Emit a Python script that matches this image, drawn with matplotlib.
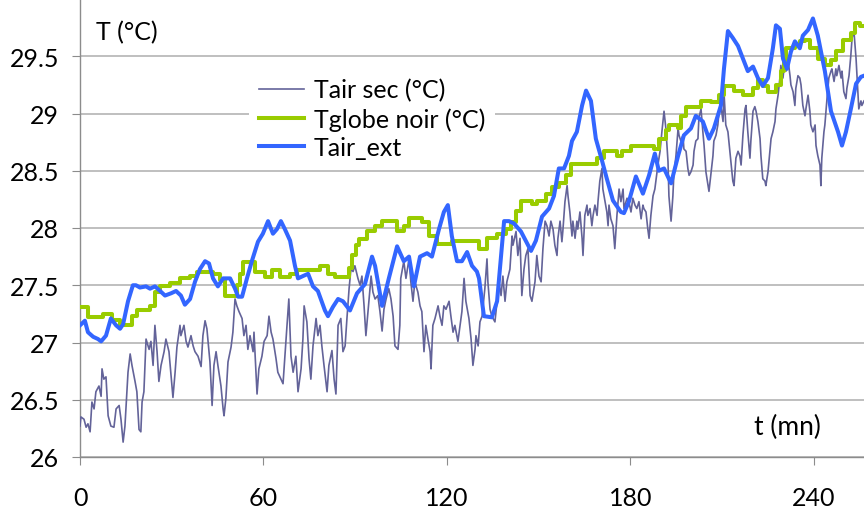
import matplotlib
matplotlib.use('Agg')
import matplotlib.pyplot as plt

# Tair sec (°C) - thin noisy line
t_sec = [0, 0.3, 1.3, 2.0, 2.6, 3.3, 3.9, 4.6, 5.2, 6.2, 6.9, 7.2, 7.8, 8.5, 9.2, 10.1, 11.1, 11.8, 12.8, 13.4,
         14.1, 14.7, 15.7, 16.4, 17.0, 18.0, 18.6, 19.3, 19.9, 20.3, 20.9, 21.6, 22.6, 23.2, 23.9, 24.5, 25.2, 25.8,
         26.5, 27.5, 28.1, 29.1, 29.8, 30.4, 31.1, 31.7, 32.7, 33.0, 34.0, 34.7, 35.3, 36.3, 37.0, 37.6, 38.6, 39.6,
         40.2, 40.9, 41.5, 42.5, 43.2, 43.8, 44.5, 45.1, 46.1, 46.8, 47.1, 47.7, 48.4, 49.4, 50.0, 50.7, 51.3, 52.0,
         53.0, 53.6, 54.3, 54.9, 55.6, 56.6, 56.9, 57.9, 58.5, 59.5, 60.2, 61.2, 61.8, 62.5, 63.1, 64.1, 64.7, 65.7,
         66.4, 67.0, 67.7, 68.3, 69.0, 69.7, 70.6, 71.3, 72.3, 72.9, 73.3, 74.2, 74.9, 75.5, 76.2, 77.2, 77.8, 78.5,
         79.1, 79.8, 80.8, 81.4, 82.4, 83.1, 83.7, 84.4, 85.3, 86.0, 86.7, 87.3, 88.0, 88.6, 89.3, 89.9, 90.9, 91.6,
         92.2, 92.9, 93.5, 94.5, 95.2, 95.8, 96.5, 97.4, 98.1, 98.8, 99.4, 100.1, 101.0, 101.7, 102.4, 103.0, 104.0,
         104.6, 104.9, 105.9, 106.6, 107.6, 108.2, 108.9, 109.5, 110.5, 111.2, 111.8, 112.5, 113.1, 113.8, 114.5,
         114.8, 115.4, 116.1, 117.1, 117.7, 118.4, 119.0, 119.7, 120.7, 121.3, 122.0, 122.6, 123.6, 124.3, 124.9,
         125.6, 126.2, 127.2, 127.9, 128.5, 129.2, 129.5, 130.2, 130.8, 131.5, 132.4, 133.1, 133.4, 134.1, 134.7,
         135.7, 136.4, 137.0, 137.7, 138.3, 139.0, 139.6, 140.6, 141.3, 141.6, 142.6, 143.2, 143.9, 144.5, 145.2,
         145.8, 146.5, 147.2, 147.8, 148.8, 149.4, 150.1, 150.8, 151.4, 152.1, 152.7, 153.4, 154.0, 154.7, 155.3,
         156.0, 156.3, 157.0, 157.6, 157.9, 158.6, 159.3, 159.6, 160.2, 160.9, 161.2, 161.9, 162.5, 162.8, 163.5,
         164.2, 164.5, 165.1, 165.8, 166.1, 166.8, 167.4, 167.8, 168.4, 169.1, 169.4, 170.0, 170.7, 171.0, 171.7,
         172.3, 172.7, 173.0, 173.6, 174.3, 174.9, 175.6, 176.3, 176.9, 177.6, 177.9, 178.9, 179.5, 180.2, 180.8,
         181.5, 182.1, 182.8, 183.5, 184.1, 184.4, 185.1, 185.7, 186.1, 186.7, 187.4, 188.0, 189.0, 189.7, 190.3,
         191.0, 191.6, 192.3, 192.6, 193.3, 193.9, 194.2, 194.9, 195.6, 195.9, 196.5, 197.2, 197.5, 198.2, 198.8,
         199.2, 199.8, 200.5, 200.8, 201.4, 202.1, 202.4, 203.1, 203.7, 204.1, 204.7, 205.4, 205.7, 206.3, 207.0,
         207.3, 208.0, 208.6, 209.0, 209.6, 210.3, 210.6, 211.2, 211.9, 212.2, 212.9, 213.5, 213.9, 214.5, 215.2,
         215.8, 216.2, 216.8, 217.5, 217.8, 218.4, 219.1, 219.4, 220.1, 220.7, 221.1, 221.7, 222.4, 222.7, 223.3,
         224.0, 224.3, 225.0, 225.6, 226.0, 226.6, 227.3, 227.6, 228.3, 228.9, 229.2, 229.9, 230.5, 230.9, 231.5,
         232.2, 232.5, 233.2, 233.8, 234.1, 234.8, 235.4, 235.8, 236.4, 237.1, 237.4, 238.1, 238.7, 239.0, 239.7,
         240.4, 240.7, 241.3, 242.0, 242.3, 242.6, 243.3, 243.6, 244.3, 244.9, 245.6, 245.9, 246.6, 247.2, 247.5,
         248.2, 248.9, 249.2, 249.8, 250.5, 250.8, 251.5, 252.1, 252.5, 253.1, 253.8, 254.1, 254.7, 255.4, 255.7,
         256.4]
T_sec = [26.27, 26.35, 26.33, 26.26, 26.29, 26.22, 26.48, 26.42, 26.57, 26.62, 26.53, 26.77, 26.68, 26.70, 26.36,
         26.27, 26.26, 26.42, 26.45, 26.33, 26.13, 26.27, 26.74, 26.90, 26.80, 26.66, 26.57, 26.24, 26.22, 26.48,
         26.57, 27.03, 26.94, 27.01, 26.80, 27.15, 26.92, 26.66, 26.80, 26.92, 27.03, 26.92, 26.71, 26.52, 26.74,
         26.96, 27.15, 27.06, 27.15, 27.01, 26.96, 27.06, 26.97, 26.92, 26.88, 26.79, 27.06, 27.19, 27.12, 26.83,
         26.45, 26.80, 26.92, 26.80, 26.62, 26.42, 26.36, 26.51, 26.83, 26.96, 27.09, 27.38, 27.32, 27.27, 27.21,
         27.06, 27.15, 26.94, 27.06, 26.92, 27.09, 26.55, 26.77, 26.88, 27.01, 27.06, 27.23, 27.09, 27.03, 26.86,
         26.74, 26.68, 26.64, 26.88, 27.15, 27.38, 26.88, 26.74, 26.88, 26.57, 26.77, 27.03, 27.32, 27.18, 26.86,
         26.68, 26.97, 27.21, 27.06, 27.15, 26.97, 26.80, 26.57, 26.80, 26.93, 26.68, 26.55, 27.15, 27.21, 26.92,
         26.97, 27.21, 27.47, 27.64, 27.62, 27.67, 27.56, 27.50, 27.58, 27.32, 27.06, 27.36, 27.58, 27.44, 27.38,
         27.41, 27.27, 27.10, 27.29, 27.38, 27.47, 27.38, 27.23, 26.97, 26.94, 27.15, 27.56, 27.71, 27.56, 27.73,
         27.53, 27.36, 27.53, 27.44, 27.32, 27.27, 26.92, 27.15, 27.03, 26.92, 26.77, 27.15, 27.21, 27.32, 27.23,
         27.15, 27.32, 27.29, 27.36, 27.23, 27.09, 27.15, 27.01, 27.15, 27.27, 27.56, 27.36, 27.21, 27.03, 26.80,
         26.94, 27.06, 26.97, 27.18, 27.23, 27.47, 27.73, 27.53, 27.29, 27.23, 27.18, 27.36, 27.53, 27.41, 27.58,
         27.36, 27.53, 27.64, 27.93, 27.85, 27.97, 27.76, 27.91, 27.41, 27.64, 27.76, 27.82, 27.41, 27.36, 27.53,
         27.76, 27.58, 27.53, 27.82, 28.06, 28.02, 27.93, 28.06, 27.99, 27.85, 27.76, 27.91, 28.06, 27.88, 27.97,
         28.23, 28.37, 28.28, 28.14, 27.93, 28.06, 27.91, 28.06, 27.99, 28.14, 27.91, 27.76, 28.11, 28.20, 28.11,
         28.17, 28.02, 28.11, 28.20, 28.11, 28.23, 28.41, 28.52, 28.34, 28.23, 28.14, 28.02, 28.20, 28.08, 28.02,
         27.82, 28.11, 28.34, 28.23, 28.34, 28.17, 28.26, 28.23, 28.14, 28.26, 28.20, 28.17, 28.23, 28.08, 28.20,
         28.17, 28.14, 27.99, 27.91, 28.11, 28.28, 28.34, 28.55, 28.67, 28.84, 29.02, 28.87, 28.58, 28.28, 28.06,
         28.28, 28.46, 28.63, 28.87, 28.81, 28.76, 28.81, 28.69, 28.67, 28.52, 28.46, 28.49, 28.55, 28.67, 28.76,
         28.78, 28.96, 29.04, 28.84, 28.72, 28.49, 28.37, 28.32, 28.46, 28.63, 28.76, 28.81, 28.90, 29.02, 29.07,
         28.93, 29.19, 28.90, 28.84, 28.76, 28.58, 28.41, 28.37, 28.61, 28.67, 28.63, 28.55, 28.81, 29.04, 29.07,
         28.84, 28.61, 28.76, 29.02, 29.06, 29.02, 28.93, 28.78, 28.63, 28.43, 28.41, 28.37, 28.49, 28.67, 28.78,
         28.84, 28.93, 29.04, 29.16, 29.31, 29.42, 29.31, 29.46, 29.37, 29.48, 29.33, 29.25, 29.19, 29.07, 29.22,
         29.33, 29.31, 29.25, 29.07, 28.98, 29.04, 29.16, 29.02, 28.90, 28.84, 28.90, 28.72, 28.63, 28.55, 28.37,
         28.61, 28.84, 28.90, 29.13, 29.31, 29.37, 29.39, 29.28, 29.39, 29.33, 29.42, 29.31, 29.37, 29.19, 29.13,
         29.22, 29.33, 29.51, 29.66, 29.72, 29.48, 29.33, 29.04, 29.11, 29.07, 29.11]

# Tglobe noir (°C) - step line
t_globe = [0, 2.6, 7.5, 10.5, 13.0, 17.0, 18.6, 22.9, 24.5, 26.2, 29.4, 32.7, 36.0, 38.3, 43.5, 45.8, 47.4, 51.3,
           52.3, 53.3, 57.2, 60.5, 62.8, 65.4, 68.7, 71.0, 78.5, 81.1, 83.4, 88.0, 89.0, 90.3, 91.2, 93.9, 96.5,
           98.8, 103.7, 106.0, 107.6, 111.8, 114.1, 116.7, 121.6, 130.5, 133.1, 136.4, 139.3, 140.9, 142.6, 144.2,
           147.8, 149.4, 152.4, 154.3, 156.6, 158.9, 160.6, 169.1, 171.4, 175.6, 177.2, 180.2, 187.7, 189.3, 191.6,
           192.6, 195.6, 196.5, 198.2, 203.1, 206.3, 209.0, 210.6, 213.9, 216.8, 220.1, 221.7, 223.3, 225.0, 227.6,
           229.2, 230.2, 230.9, 233.8, 235.4, 237.1, 238.7, 241.3, 243.6, 245.6, 247.2, 249.5, 252.1, 253.4, 255.0,
           256.4]
T_globe = [27.31, 27.22, 27.25, 27.20, 27.15, 27.23, 27.28, 27.32, 27.44, 27.49, 27.52, 27.56, 27.58, 27.62, 27.60,
           27.55, 27.41, 27.50, 27.60, 27.70, 27.62, 27.57, 27.63, 27.57, 27.60, 27.63, 27.67, 27.60, 27.57, 27.65,
           27.76, 27.85, 27.90, 27.97, 28.02, 28.06, 27.97, 28.02, 28.09, 28.05, 27.93, 27.86, 27.89, 27.82, 27.91,
           27.95, 27.99, 28.05, 28.15, 28.24, 28.21, 28.24, 28.30, 28.36, 28.39, 28.46, 28.56, 28.61, 28.67, 28.63,
           28.67, 28.72, 28.69, 28.78, 28.86, 28.90, 28.87, 28.98, 29.06, 29.11, 29.10, 29.16, 29.24, 29.20, 29.16,
           29.22, 29.29, 29.24, 29.19, 29.25, 29.37, 29.47, 29.57, 29.61, 29.63, 29.64, 29.57, 29.48, 29.42, 29.47,
           29.55, 29.64, 29.70, 29.79, 29.76, 29.76]

# Tair_ext - smooth thick line
t_ext = [0, 1.6, 2.6, 4.3, 5.9, 6.9, 8.5, 10.1, 11.8, 13.1, 14.1, 15.7, 17.3, 18.3, 19.6, 21.6, 22.9, 24.5, 26.2,
         27.8, 29.8, 31.4, 33.0, 34.3, 36.0, 37.6, 39.2, 40.9, 42.2, 43.5, 45.1, 46.8, 49.1, 50.7, 51.7, 53.0, 54.6,
         56.2, 58.2, 59.8, 61.5, 63.1, 64.4, 65.7, 67.0, 68.7, 70.3, 71.3, 72.9, 74.6, 76.2, 77.8, 80.1, 81.1, 82.7,
         84.4, 86.0, 88.3, 90.6, 93.2, 95.5, 96.5, 98.8, 101.0, 103.7, 105.9, 107.6, 109.2, 111.2, 113.5, 115.1,
         117.4, 119.0, 120.3, 121.6, 123.3, 124.9, 126.6, 128.2, 129.8, 130.5, 132.1, 134.7, 136.4, 138.7, 140.3,
         141.9, 144.2, 147.5, 149.1, 151.1, 153.4, 155.0, 156.6, 158.3, 159.9, 160.9, 162.5, 164.2, 165.5, 167.1,
         168.7, 170.7, 172.3, 174.3, 176.9, 177.9, 179.5, 181.8, 184.1, 186.1, 188.0, 189.3, 191.0, 193.3, 195.6,
         197.5, 199.8, 201.4, 203.7, 205.7, 207.3, 209.6, 210.6, 211.9, 213.5, 215.2, 216.8, 218.4, 220.1, 221.7,
         223.3, 225.0, 226.6, 227.6, 228.9, 229.9, 231.2, 232.5, 233.8, 235.4, 236.4, 238.1, 239.7, 241.3, 243.6,
         245.6, 247.9, 249.2, 250.5, 252.1, 253.8, 255.4, 256.4]
T_ext = [27.15, 27.19, 27.09, 27.05, 27.03, 27.01, 27.06, 27.21, 27.15, 27.12, 27.16, 27.36, 27.50, 27.50, 27.48,
         27.49, 27.47, 27.49, 27.45, 27.41, 27.43, 27.45, 27.41, 27.33, 27.38, 27.53, 27.64, 27.71, 27.69, 27.56,
         27.49, 27.56, 27.56, 27.47, 27.40, 27.40, 27.56, 27.71, 27.88, 27.95, 28.06, 27.95, 27.99, 28.06, 27.99,
         27.89, 27.67, 27.56, 27.58, 27.60, 27.49, 27.45, 27.28, 27.23, 27.31, 27.38, 27.36, 27.28, 27.43, 27.51,
         27.75, 27.67, 27.32, 27.56, 27.84, 27.71, 27.75, 27.49, 27.75, 27.78, 27.75, 27.99, 28.14, 28.20, 27.93,
         27.71, 27.71, 27.79, 27.67, 27.62, 27.56, 27.23, 27.22, 27.36, 28.06, 28.06, 28.04, 27.97, 27.80, 27.89,
         28.10, 28.17, 28.28, 28.52, 28.52, 28.63, 28.76, 28.84, 29.07, 29.20, 29.11, 28.78, 28.59, 28.43, 28.24,
         28.14, 28.13, 28.23, 28.45, 28.30, 28.46, 28.65, 28.50, 28.52, 28.39, 28.63, 28.81, 28.87, 28.98, 28.93,
         28.78, 28.87, 29.07, 29.39, 29.72, 29.66, 29.59, 29.48, 29.37, 29.41, 29.31, 29.24, 29.31, 29.57, 29.77,
         29.74, 29.48, 29.39, 29.54, 29.63, 29.57, 29.68, 29.73, 29.83, 29.68, 29.37, 29.02, 28.84, 28.72, 28.84,
         29.04, 29.26, 29.32, 29.33]

y_ticks = [26, 26.5, 27, 27.5, 28, 28.5, 29, 29.5]
y_labels = ['26', '26.5', '27', '27.5', '28', '28.5', '29', '29.5']
x_ticks = [0, 60, 120, 180, 240]

plt.rcParams['font.family'] = ['Lato', 'DejaVu Sans']

fig = plt.figure(figsize=(8.64, 5.10), dpi=100)
ax = fig.add_axes([80 / 864, 52 / 510, 784 / 864, 458 / 510])

ax.plot(t_sec, T_sec, color='#636399', lw=1.2, label='Tair sec (°C)', zorder=3)
ax.plot(t_globe, T_globe, color='#99cc00', lw=2.9, drawstyle='steps-post', label='Tglobe noir (°C)', zorder=4)
ax.plot(t_ext, T_ext, color='#3366ff', lw=2.9, label='Tair_ext', zorder=5)

ax.set_xlim(0, 256.4)
ax.set_ylim(26, 30)
ax.set_yticks(y_ticks)
ax.set_yticklabels(y_labels)
ax.set_xticks(x_ticks)
ax.yaxis.grid(True, color='#b4b4b4', lw=1.2)
ax.set_axisbelow(True)

for s in ['top', 'right']:
    ax.spines[s].set_visible(False)
for s in ['left', 'bottom']:
    ax.spines[s].set_color('#8c8c8c')
    ax.spines[s].set_linewidth(1.0)

ax.tick_params(axis='y', length=6, color='#8c8c8c', labelsize=18, pad=9)
ax.tick_params(axis='x', length=6, color='#8c8c8c', labelsize=18, pad=15)

ax.text(0.02, 0.928, 'T (°C)', transform=ax.transAxes, fontsize=18, va='center', ha='left')
ax.text(0.945, 0.066, 't (mn)', transform=ax.transAxes, fontsize=19, va='center', ha='right')

leg = ax.legend(loc='upper left', bbox_to_anchor=(0.199, 0.876), fontsize=18, frameon=True,
                handlelength=1.8, handletextpad=0.4, labelspacing=0.22, borderpad=0.4, fancybox=False)
leg.get_frame().set_edgecolor('none')
leg.get_frame().set_facecolor('white')
leg.get_frame().set_alpha(1.0)

fig.savefig('out.png', dpi=100)
